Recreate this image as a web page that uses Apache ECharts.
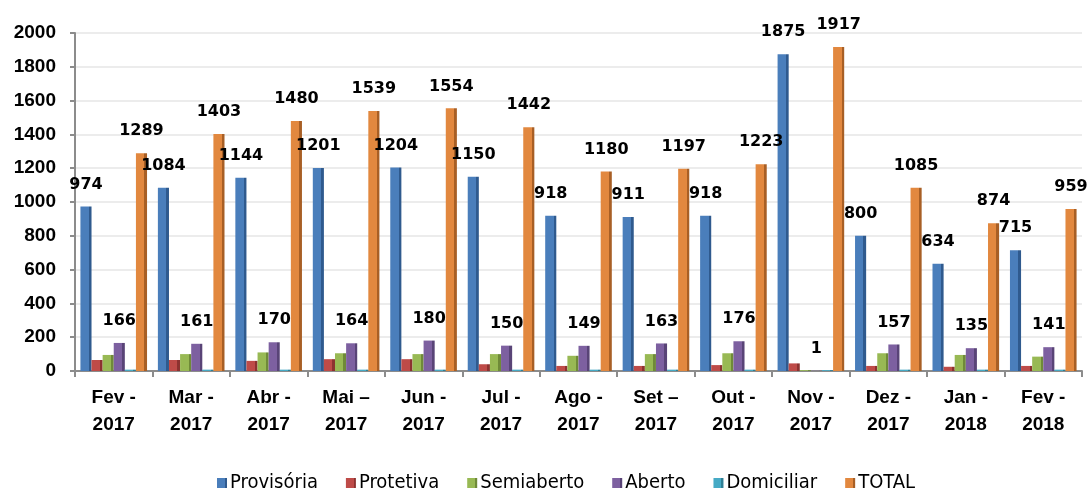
<!DOCTYPE html>
<html>
<head>
<meta charset="utf-8">
<script src="https://cdn.jsdelivr.net/npm/echarts@6/dist/echarts.min.js"></script>
<style>html,body{margin:0;padding:0;background:#fff}#c{width:1089px;height:488px}</style>
</head>
<body>
<div id="c"></div>
<script>
const categories = ['Fev -\n2017','Mar -\n2017','Abr -\n2017','Mai –\n2017','Jun -\n2017','Jul -\n2017','Ago -\n2017','Set –\n2017','Out -\n2017','Nov -\n2017','Dez -\n2017','Jan -\n2018','Fev -\n2018'];
const provisoria = [974,1084,1144,1201,1204,1150,918,911,918,1875,800,634,715];
const protetiva = [65,65,60,70,70,40,30,30,35,45,30,25,30];
const semiaberto = [95,100,110,105,100,100,90,100,105,5,105,95,85];
const aberto = [166,161,170,164,180,150,149,163,176,1,157,135,141];
const domiciliar = [8,8,8,8,8,8,8,8,8,5,8,8,8];
const total = [1289,1403,1480,1539,1554,1442,1180,1197,1223,1917,1085,874,959];
const yTicks = [0,200,400,600,800,1000,1200,1400,1600,1800,2000];

function face(c, d){
  return {type:'linear',x:0,y:0,x2:1,y2:0,colorStops:[{offset:0,color:c},{offset:0.76,color:c},{offset:0.76,color:d},{offset:1,color:d}]};
}
const lbl = {show:true,position:'top',distance:14,color:'#000',fontFamily:'DejaVu Sans',fontWeight:'bold',fontSize:16};
function s(name,data,c,d,label){
  return {name,type:'bar',data,barGap:'0%',barCategoryGap:'14%',
    itemStyle:{color:face(c,d)},label:label?lbl:{show:false},emphasis:{disabled:true}};
}
const chart = echarts.init(document.getElementById('c'),null,{renderer:'canvas'});
chart.setOption({
  animation:false,
  color:['#4a7ebb','#be4b48','#98b954','#7d60a0','#46aac5','#e2883f'],
  grid:{left:75,right:7,top:33,bottom:117,containLabel:false},
  legend:{top:468,left:212,itemWidth:10,itemHeight:10,itemGap:28,icon:'rect',
    textStyle:{fontFamily:'Liberation Sans Narrow, DejaVu Sans Condensed, sans-serif',fontSize:20,color:'#000',padding:[0,0,0,-2]}},
  xAxis:{type:'category',data:categories,
    axisLine:{lineStyle:{color:'#8c8c8c',width:2}},
    axisTick:{show:true,length:6,lineStyle:{color:'#8c8c8c',width:2}},
    axisLabel:{margin:13,color:'#000',fontFamily:'Liberation Sans, Arial, sans-serif',fontWeight:'bold',fontSize:19,lineHeight:27,interval:0}},
  yAxis:{type:'value',min:0,max:2000,interval:200,
    axisLine:{show:true,lineStyle:{color:'#8c8c8c',width:2}},
    axisTick:{show:true,length:5,lineStyle:{color:'#8c8c8c',width:2}},
    splitLine:{show:true,lineStyle:{color:'#ececec',width:2}},
    axisLabel:{margin:19,color:'#000',fontFamily:'Liberation Sans, Arial, sans-serif',fontWeight:'bold',fontSize:19,
      formatter:v=>yTicks.includes(v)?String(v):''}},
  series:[
    s('Provisória',provisoria,'#4a7ebb','#2f5a8e',true),
    s('Protetiva',protetiva,'#be4b48','#8c3230',false),
    s('Semiaberto',semiaberto,'#98b954','#6f8a38',false),
    s('Aberto',aberto,'#7d60a0','#594477',true),
    s('Domiciliar',domiciliar,'#46aac5','#2f7f95',false),
    s('TOTAL',total,'#e2883f','#a85f25',true)
  ]
});
</script>
</body>
</html>
